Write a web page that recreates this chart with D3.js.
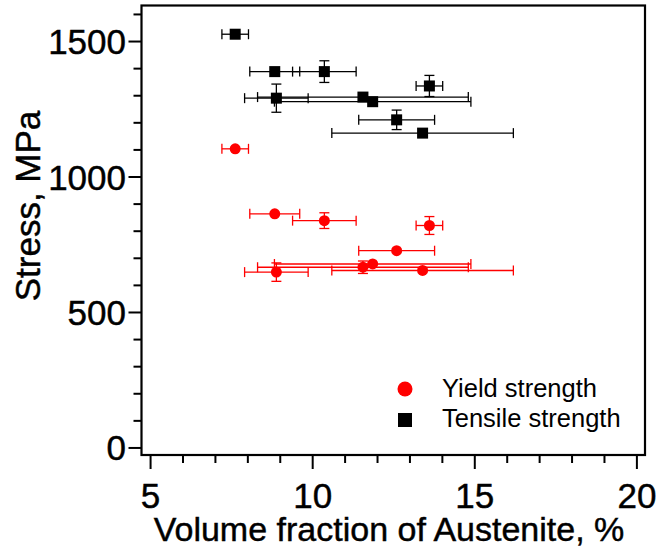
<!DOCTYPE html>
<html>
<head>
<meta charset="utf-8">
<script src="https://cdn.jsdelivr.net/npm/d3@7"></script>
<style>
  html, body { margin: 0; padding: 0; background: #fff; }
  svg { display: block; font-family: "Liberation Sans", Arial, sans-serif; }
  .lbl { fill: #000; stroke: #000; stroke-width: 0.45; }
</style>
</head>
<body>
<svg id="chart" width="659" height="556"></svg>
<script>
// Volume fraction of retained austenite (%) for each sample, with its spread
const volumeFraction    = [7.61, 8.83, 10.36, 13.60, 8.88, 11.55, 11.85, 12.59, 13.39];
const volumeFractionErr = [0.41, 0.77, 0.98, 0.41, 0.98, 3.25, 3.03, 1.17, 2.80];

// Yield strength (MPa) and its spread
const yieldStrength = [1104, 864, 839, 821, 649, 667, 679, 728, 655];
const yieldErr      = [0, 0, 29, 33, 34, 23, 0, 0, 0];

// Tensile strength (MPa) and its spread
const tensileStrength = [1527, 1389, 1389, 1336, 1291, 1295, 1278, 1211, 1162];
const tensileErr      = [0, 0, 40, 39, 52, 0, 0, 36, 0];

const xTicks = [5, 10, 15, 20];
const yTicks = [0, 500, 1000, 1500];

const seriesNames = ["Yield strength", "Tensile strength"];
const seriesColors = ["#ff0000", "#000000"];

const svg = d3.select("#chart");

const x = d3.scaleLinear().domain([4.72, 20.25]).range([141.5, 645]);
const y = d3.scaleLinear().domain([-26, 1633]).range([455, 5.5]);

const xMin = x.domain()[0], xMax = x.domain()[1];
const yMin = y.domain()[0], yMax = y.domain()[1];

// minor ticks
const xMinor = d3.range(5, 20.01, 1).filter(v => !xTicks.includes(v));
const yMinor = d3.range(0, 1600.1, 100).filter(v => !yTicks.includes(v));

const bottom = y(yMin), left = x(xMin);

const axisStyle = g => g.attr("stroke", "#000").attr("stroke-width", 2);

// x ticks
const gx = svg.append("g").call(axisStyle);
gx.selectAll("line.major").data(xTicks).join("line")
  .attr("x1", d => x(d)).attr("x2", d => x(d))
  .attr("y1", bottom).attr("y2", bottom + 14);
gx.selectAll("line.minor").data(xMinor).join("line")
  .attr("x1", d => x(d)).attr("x2", d => x(d))
  .attr("y1", bottom).attr("y2", bottom + 8);

// y ticks
const gy = svg.append("g").call(axisStyle);
gy.selectAll("line.major").data(yTicks).join("line")
  .attr("x1", left - 13).attr("x2", left)
  .attr("y1", d => y(d)).attr("y2", d => y(d));
gy.selectAll("line.minor").data(yMinor).join("line")
  .attr("x1", left - 8).attr("x2", left)
  .attr("y1", d => y(d)).attr("y2", d => y(d));

// tick labels
svg.append("g").selectAll("text").data(xTicks).join("text")
  .attr("class", "lbl")
  .attr("x", d => x(d)).attr("y", 508)
  .attr("text-anchor", "middle")
  .attr("font-size", 35)
  .text(d => d);

svg.append("g").selectAll("text").data(yTicks).join("text")
  .attr("class", "lbl")
  .attr("x", 126).attr("y", d => y(d) + 12.5)
  .attr("text-anchor", "end")
  .attr("font-size", 35)
  .text(d => d);

// axis titles
svg.append("text")
  .attr("class", "lbl")
  .attr("x", 389).attr("y", 541)
  .attr("text-anchor", "middle")
  .attr("font-size", 34)
  .text("Volume fraction of Austenite, %");

svg.append("text")
  .attr("class", "lbl")
  .attr("transform", "translate(40,206) rotate(-90)")
  .attr("text-anchor", "middle")
  .attr("font-size", 35)
  .text("Stress, MPa");

// error bars and markers
const samples = d3.range(volumeFraction.length);
const capHalf = 5;

function drawSeries(values, errs, color, shape) {
  const g = svg.append("g").attr("stroke", color).attr("stroke-width", 1.3).attr("fill", "none");
  samples.forEach(i => {
    const cx = x(volumeFraction[i]), cy = y(values[i]);
    const xl = x(volumeFraction[i] - volumeFractionErr[i]);
    const xr = x(volumeFraction[i] + volumeFractionErr[i]);
    g.append("line").attr("x1", xl).attr("x2", xr).attr("y1", cy).attr("y2", cy);
    g.append("line").attr("x1", xl).attr("x2", xl).attr("y1", cy - capHalf).attr("y2", cy + capHalf);
    g.append("line").attr("x1", xr).attr("x2", xr).attr("y1", cy - capHalf).attr("y2", cy + capHalf);
    if (errs[i] > 0) {
      const yt = y(values[i] + errs[i]), yb = y(values[i] - errs[i]);
      g.append("line").attr("x1", cx).attr("x2", cx).attr("y1", yt).attr("y2", yb);
      g.append("line").attr("x1", cx - capHalf).attr("x2", cx + capHalf).attr("y1", yt).attr("y2", yt);
      g.append("line").attr("x1", cx - capHalf).attr("x2", cx + capHalf).attr("y1", yb).attr("y2", yb);
    }
  });
  const m = svg.append("g").attr("fill", color);
  if (shape === "circle") {
    m.selectAll("circle").data(samples).join("circle")
      .attr("cx", i => x(volumeFraction[i])).attr("cy", i => y(values[i])).attr("r", 5.5);
  } else {
    m.selectAll("rect").data(samples).join("rect")
      .attr("x", i => x(volumeFraction[i]) - 5.5).attr("y", i => y(values[i]) - 5.5)
      .attr("width", 11).attr("height", 11);
  }
}

drawSeries(yieldStrength, yieldErr, seriesColors[0], "circle");
drawSeries(tensileStrength, tensileErr, seriesColors[1], "square");

// legend
const legend = svg.append("g");
legend.append("circle").attr("cx", 405).attr("cy", 389).attr("r", 7.5).attr("fill", seriesColors[0]);
legend.append("rect").attr("x", 398).attr("y", 413).attr("width", 14).attr("height", 14).attr("fill", seriesColors[1]);
legend.selectAll("text").data(seriesNames).join("text")
  .attr("x", 442).attr("y", (d, i) => 397 + i * 30)
  .attr("font-size", 25.5)
  .text(d => d);

// plot frame
svg.append("rect")
  .attr("x", x(xMin)).attr("y", y(yMax))
  .attr("width", x(xMax) - x(xMin)).attr("height", y(yMin) - y(yMax))
  .attr("fill", "none").attr("stroke", "#000").attr("stroke-width", 2.2);
</script>
</body>
</html>
